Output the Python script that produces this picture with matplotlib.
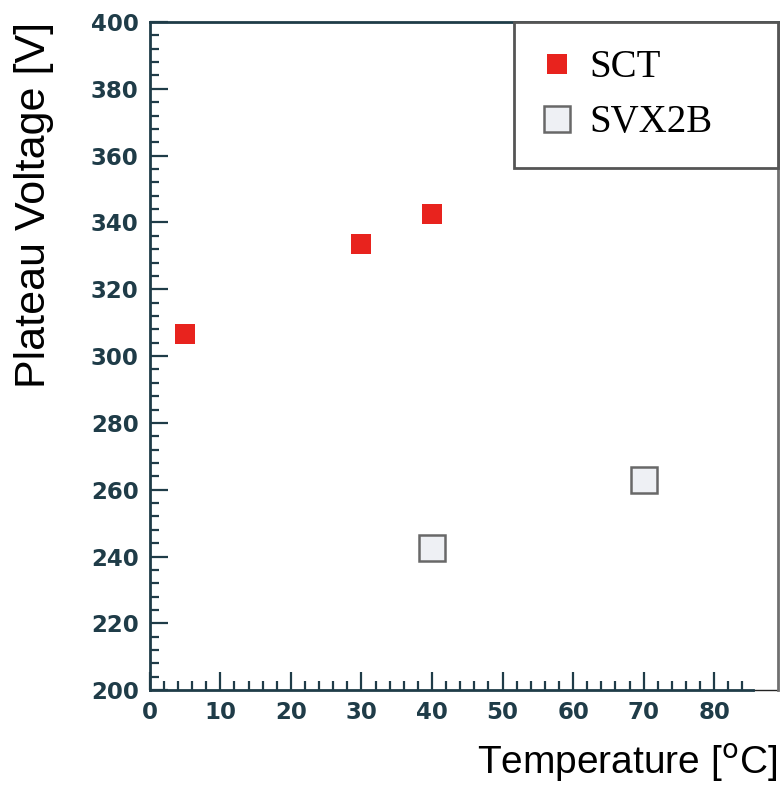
import numpy as np
import matplotlib
matplotlib.use("Agg")
import matplotlib.pyplot as plt
from matplotlib.ticker import MultipleLocator, FixedLocator

# 讀圖估計的數值
sct_temp = [5, 30, 40]
sct_volt = [306.5, 333.5, 342.5]
svx_temp = [40, 70]
svx_volt = [242.5, 263]

INK = "#1f3c48"
GREY = "#707070"

fig = plt.figure(figsize=(7.84, 7.87), dpi=100)
ax = fig.add_axes([0.191, 0.123, 0.801, 0.849])

ax.plot(sct_temp, sct_volt, "s", ms=14, color="#e8231e", mec="#e8231e",
        mew=0, label="SCT", zorder=3)
ax.plot(svx_temp, svx_volt, "s", ms=19, mfc="#eef0f4", mec="#686868",
        mew=1.8, label="SVX2B", zorder=3)

ax.set_xlim(0, 89)
ax.set_ylim(200, 400)
ax.xaxis.set_major_locator(MultipleLocator(10))
ax.xaxis.set_major_formatter(plt.FuncFormatter(
    lambda v, p: f"{v:.0f}" if v <= 80 else ""))
ax.xaxis.set_minor_locator(FixedLocator(np.arange(0, 85, 2)))
ax.yaxis.set_major_locator(MultipleLocator(20))
ax.yaxis.set_minor_locator(MultipleLocator(4))

ax.tick_params(which="both", direction="in", color=INK, width=1.6,
               top=False, right=False)
ax.tick_params(which="major", length=13, pad=8, labelsize=16.5,
               labelcolor=INK)
ax.tick_params(which="minor", length=6.5)
for lab in ax.get_xticklabels() + ax.get_yticklabels():
    lab.set_fontweight("bold")
    lab.set_family("DejaVu Sans")

for side in ("left", "bottom", "top"):
    ax.spines[side].set_color(INK)
    ax.spines[side].set_linewidth(2)
ax.spines["right"].set_color(GREY)
ax.spines["right"].set_linewidth(2)
ax.spines["bottom"].set_bounds(0, 85.5)
ax.axhline(200, xmin=85.5 / 89, xmax=1, color="#222222", lw=1, clip_on=False)

ax.set_ylabel("Plateau Voltage [V]", family="Liberation Sans", fontsize=31,
              loc="top", color="black")
ax.yaxis.set_label_coords(-0.152, 1.0)
ax.set_xlabel("Temperature [$^{\\mathrm{o}}$C]", family="Liberation Sans",
              fontsize=28, loc="right", color="black")
ax.xaxis.set_label_coords(1.0, -0.077)

leg = ax.legend(loc="upper left", bbox_to_anchor=(0.58, 0.785, 0.42, 0.215),
                mode="expand", borderaxespad=0, fancybox=False,
                prop={"family": "Liberation Serif", "size": 28},
                handlelength=0.8, handletextpad=0.45, labelspacing=0.46,
                borderpad=0.7, framealpha=1)
leg.get_frame().set_edgecolor("#555555")
leg.get_frame().set_linewidth(2)
leg.set_zorder(5)

fig.savefig("out.png", dpi=100)
